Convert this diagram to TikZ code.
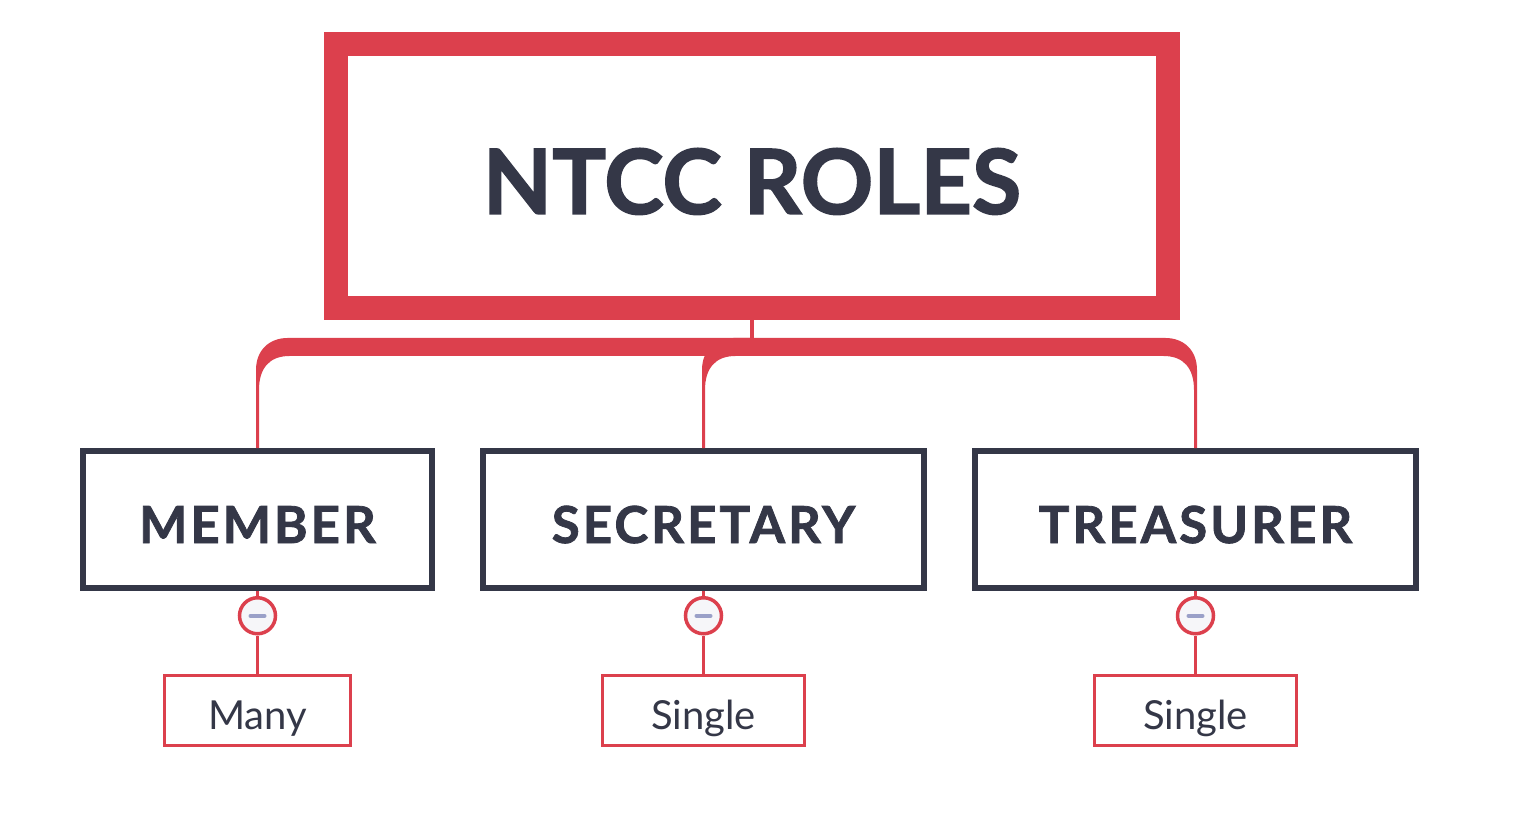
\documentclass[tikz,border=0pt]{standalone}
\usepackage{fontspec}
\setmainfont{Lato}[BoldFeatures={FakeBold=1.6}]
\newfontfamily\rolefont[LetterSpace=6,BoldFeatures={FakeBold=1.6}]{Lato}
\usepackage{xcolor}
\usepackage{tikz}
\usetikzlibrary{positioning,calc}

\definecolor{ntred}{HTML}{DC404D}
\definecolor{ntdark}{HTML}{343747}
\definecolor{ntminus}{HTML}{9AA0C8}
\definecolor{ntknob}{HTML}{F6F6F9}

\begin{document}
\begin{tikzpicture}[
    x=1pt, y=-1pt,
    rootbox/.style={
        draw=ntred,
        line width=24pt,
        align=center,
        minimum width=832pt,
        minimum height=264pt,
        text=ntdark,
        text height=76pt,
        text depth=0pt,
        font=\fontsize{90}{98}\selectfont\bfseries
    },
    rolebox/.style={
        draw=ntdark,
        line width=6pt,
        align=center,
        minimum height=137pt,
        text=ntdark,
        text height=47pt,
        text depth=0pt,
        font=\fontsize{51}{60}\rolefont\bfseries
    },
    leafbox/.style={
        draw=ntred,
        line width=3.5pt,
        align=center,
        minimum height=70pt,
        text=ntdark,
        text height=38pt,
        text depth=0pt,
        font=\fontsize{40}{46}\selectfont
    },
    knob/.style={
        circle,
        draw=ntred,
        fill=ntknob,
        line width=3.5pt,
        minimum size=36pt,
        inner sep=0pt
    },
    stem/.style={
        draw=ntred,
        line width=4pt
    },
    leafline/.style={
        draw=ntred,
        line width=3pt
    },
    minus/.style={
        draw=ntminus,
        line width=4pt,
        line cap=round
    }
]

\useasboundingbox (0,0) rectangle (1516,826);

\node[rootbox] (root) at (752,176) {NTCC ROLES};

\node[rolebox, minimum width=441pt, below=128pt of root, xshift=-48.5pt] (secretary) {SECRETARY};

\node[rolebox, minimum width=349pt, left=45pt of secretary] (member) {MEMBER};

\node[rolebox, minimum width=441pt, right=45pt of secretary] (treasurer) {TREASURER};

\coordinate[below=27pt of root.south] (hub);

% toggles under the roles
\node[knob, below=5pt of member] (mknob) {};

\node[knob, below=5pt of secretary] (sknob) {};

\node[knob, below=5pt of treasurer] (tknob) {};

\node[leafbox, minimum width=186pt, below=38pt of mknob] (many) {Many};

\node[leafbox, minimum width=202pt, below=38pt of sknob] (ssingle) {Single};

\node[leafbox, minimum width=202pt, below=38pt of tknob] (tsingle) {Single};

\draw[stem] (root.south) -- (hub);

% tapered branches
\fill[ntred] let \p1 = (hub), \p2 = (member.north) in
    (\x1, \y1+9pt) -- (\x2+30pt, \y1+9pt)
    .. controls (\x2+12pt, \y1+9pt) and (\x2-1.5pt, \y1-3pt) .. (\x2-1.5pt, \y1-23pt)
    -- (\x2-1.5pt, \y2) -- (\x2+1.5pt, \y2) -- (\x2+1.5pt, \y1-43pt)
    .. controls (\x2+1.5pt, \y1-21pt) and (\x2+12pt, \y1-9pt) .. (\x2+32pt, \y1-9pt)
    -- (\x1, \y1-9pt) -- cycle;

\fill[ntred] let \p1 = (hub), \p2 = (secretary.north) in
    (\x1, \y1+9pt) -- (\x2+30pt, \y1+9pt)
    .. controls (\x2+12pt, \y1+9pt) and (\x2-1.5pt, \y1-3pt) .. (\x2-1.5pt, \y1-23pt)
    -- (\x2-1.5pt, \y2) -- (\x2+1.5pt, \y2) -- (\x2+1.5pt, \y1-43pt)
    .. controls (\x2+1.5pt, \y1-21pt) and (\x2+12pt, \y1-9pt) .. (\x2+32pt, \y1-9pt)
    -- (\x1, \y1-9pt) -- cycle;

\fill[ntred] let \p1 = (hub), \p2 = (treasurer.north) in
    (\x1, \y1+9pt) -- (\x2-30pt, \y1+9pt)
    .. controls (\x2-12pt, \y1+9pt) and (\x2+1.5pt, \y1-3pt) .. (\x2+1.5pt, \y1-23pt)
    -- (\x2+1.5pt, \y2) -- (\x2-1.5pt, \y2) -- (\x2-1.5pt, \y1-43pt)
    .. controls (\x2-1.5pt, \y1-21pt) and (\x2-12pt, \y1-9pt) .. (\x2-32pt, \y1-9pt)
    -- (\x1, \y1-9pt) -- cycle;

\draw[leafline] (member) -- (mknob);

\draw[leafline] (mknob) -- (many);

\draw[leafline] (secretary) -- (sknob);

\draw[leafline] (sknob) -- (ssingle);

\draw[leafline] (treasurer) -- (tknob);

\draw[leafline] (tknob) -- (tsingle);

\draw[minus] ([xshift=-7pt]mknob.center) -- ([xshift=7pt]mknob.center);

\draw[minus] ([xshift=-7pt]sknob.center) -- ([xshift=7pt]sknob.center);

\draw[minus] ([xshift=-7pt]tknob.center) -- ([xshift=7pt]tknob.center);

\end{tikzpicture}
\end{document}
